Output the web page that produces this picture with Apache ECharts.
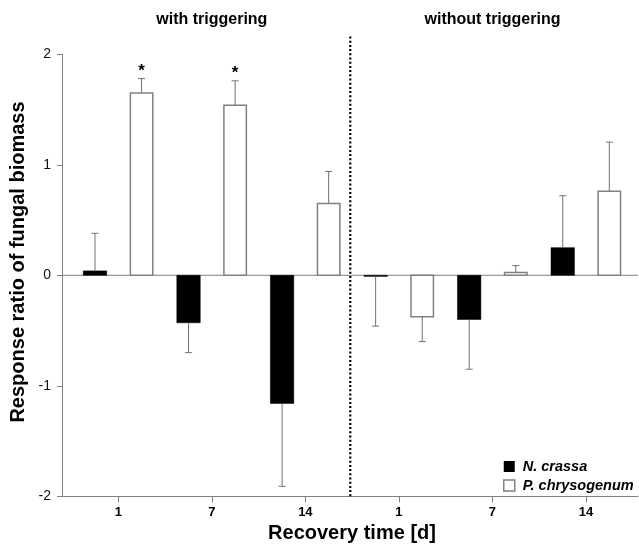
<!DOCTYPE html>
<html><head><meta charset="utf-8">
<script src="https://cdn.jsdelivr.net/npm/echarts@6/dist/echarts.min.js"></script>
<style>html,body{margin:0;padding:0;background:#fff}#c{width:639px;height:545px}</style>
</head><body><div id="c"></div>
<script>
// ---- data ----
const categories = ['1', '7', '14', '1', '7', '14'];
const groupTitles = ['with triggering', 'without triggering'];
const groupCenterIndex = [2, 5];
const seriesNames = ['N. crassa', 'P. chrysogenum'];
const nCrassa = [0.04, -0.43, -1.16, -0.01, -0.40, 0.25];
const nCrassaErr = [0.34, 0.27, 0.75, 0.45, 0.45, 0.47];
const pChrys = [1.65, 1.54, 0.65, -0.375, 0.025, 0.76];
const pChrysErr = [0.13, 0.22, 0.29, 0.225, 0.063, 0.445];
const pChrysSig = ['*', '*', '', '', '', ''];
const separatorX = 3.48;
const separatorTop = 2.18;
const yMin = -2, yMax = 2, yInterval = 1;
const xLabelName = 'Recovery time [d]';
const yLabelName = 'Response ratio of fungal biomass';

// ---- style ----
const FONT = "'Liberation Sans', Arial, sans-serif";
const AXIS_COLOR = '#808080';
const ERR_COLOR = '#707070';
const BAR_OFFSET = 0.249;
const BAR_W = 0.256;

function makeRender(offset, fill, stroke, lw, sig) {
  return function (params, api) {
    const i = api.value(0), v = api.value(1), e = api.value(2);
    const unit = api.size([1, 0])[0];
    const base = api.coord([i, 0]);
    const top = api.coord([i, v]);
    const tip = api.coord([i, v >= 0 ? v + e : v - e]);
    const cx = base[0] + offset * unit;
    const w = BAR_W * unit;
    const y0 = Math.min(base[1], top[1]);
    const h = Math.max(Math.abs(top[1] - base[1]), 0.8);
    const children = [
      { type: 'rect', shape: { x: cx - w / 2 + lw / 2, y: y0, width: w - lw, height: h },
        style: { fill: fill, stroke: stroke, lineWidth: lw } },
      { type: 'line', shape: { x1: cx, y1: top[1], x2: cx, y2: tip[1] },
        style: { stroke: ERR_COLOR, lineWidth: 1 } },
      { type: 'line', shape: { x1: cx - 3.5, y1: tip[1], x2: cx + 3.5, y2: tip[1] },
        style: { stroke: ERR_COLOR, lineWidth: 1 } }
    ];
    if (sig && sig[params.dataIndex]) {
      children.push({ type: 'text', x: cx, y: tip[1] + 1,
        style: { text: sig[params.dataIndex], font: 'bold 17px ' + FONT, fill: '#000',
          textAlign: 'center', textVerticalAlign: 'bottom' } });
    }
    return { type: 'group', children: children };
  };
}

const chart = echarts.init(document.getElementById('c'), null, { renderer: 'canvas' });
const xVals = categories.map((c, k) => k + 1);
const xMin = 1 - 56.3 / 93.6, xMax = 6 + 52 / 93.6;

chart.setOption({
  animation: false,
  backgroundColor: '#fff',
  textStyle: { fontFamily: FONT },
  grid: { left: 62, right: 1, top: 54.3, bottom: 48.7, containLabel: false, outerBoundsMode: 'none' },
  legend: {
    orient: 'vertical', left: 498, top: 454, itemWidth: 11, itemHeight: 11, itemGap: 4,
    icon: 'rect',
    textStyle: { fontFamily: FONT, fontSize: 14.5, fontWeight: 'bold', fontStyle: 'italic', color: '#000',
      padding: [0, 0, 0, 3] },
    data: [
      { name: seriesNames[0], itemStyle: { color: '#000', borderColor: '#000', borderWidth: 0 } },
      { name: seriesNames[1], itemStyle: { color: '#fff', borderColor: '#808080', borderWidth: 1.5 } }
    ]
  },
  xAxis: {
    type: 'value', min: xMin, max: xMax,
    splitLine: { show: false },
    axisLine: { show: true, onZero: false, lineStyle: { color: AXIS_COLOR, width: 1 } },
    axisTick: { show: true, length: 6, customValues: xVals, lineStyle: { color: AXIS_COLOR } },
    axisLabel: { show: true, customValues: xVals, margin: 10, fontSize: 13, fontWeight: 'bold', color: '#000',
      fontFamily: FONT, formatter: v => categories[Math.round(v) - 1] }
  },
  yAxis: {
    type: 'value', min: yMin, max: yMax, interval: yInterval,
    splitLine: { show: false },
    axisLine: { show: true, onZero: false, lineStyle: { color: AXIS_COLOR, width: 1 } },
    axisTick: { show: true, length: 5, lineStyle: { color: AXIS_COLOR } },
    axisLabel: { margin: 11, fontSize: 14, color: '#111', fontFamily: FONT }
  },
  series: [
    {
      name: 'guides', type: 'custom', silent: true, z: 1,
      data: [[separatorX, separatorTop]],
      encode: { x: 0, y: 1 },
      renderItem: function (params, api) {
        const sx = api.value(0);
        const a = api.coord([sx, yMin]);
        const b = api.coord([sx, api.value(1)]);
        const z0 = api.coord([xMin, 0]);
        const z1 = api.coord([xMax, 0]);
        return { type: 'group', children: [
          { type: 'line', shape: { x1: z0[0], y1: z0[1], x2: z1[0], y2: z1[1] },
            style: { stroke: AXIS_COLOR, lineWidth: 1 } },
          { type: 'line', shape: { x1: a[0], y1: a[1], x2: b[0], y2: b[1] },
            style: { stroke: '#000', lineWidth: 2.2, lineDash: [2, 2.2] } }
        ] };
      }
    },
    {
      name: seriesNames[0], type: 'custom',
      itemStyle: { color: '#000' },
      renderItem: makeRender(-BAR_OFFSET, '#000', '#000', 0.5, null),
      data: nCrassa.map((v, k) => [xVals[k], v, nCrassaErr[k]]),
      encode: { x: 0, y: 1 },
      z: 3
    },
    {
      name: seriesNames[1], type: 'custom',
      itemStyle: { color: '#fff', borderColor: '#808080', borderWidth: 1.5 },
      renderItem: makeRender(BAR_OFFSET, '#fff', '#808080', 1.5, pChrysSig),
      data: pChrys.map((v, k) => [xVals[k], v, pChrysErr[k]]),
      encode: { x: 0, y: 1 },
      z: 3
    }
  ]
});

const gx = groupCenterIndex.map(k => chart.convertToPixel({ xAxisIndex: 0 }, k));
chart.setOption({
  graphic: [
    { type: 'text', x: gx[0], y: 20, style: { text: groupTitles[0], font: 'bold 16px ' + FONT, fill: '#000', textAlign: 'center', textVerticalAlign: 'middle' } },
    { type: 'text', x: gx[1], y: 20, style: { text: groupTitles[1], font: 'bold 16px ' + FONT, fill: '#000', textAlign: 'center', textVerticalAlign: 'middle' } },
    { type: 'text', x: 18, y: 262, rotation: Math.PI / 2, style: { text: yLabelName, font: 'bold 20px ' + FONT, fill: '#000', textAlign: 'center', textVerticalAlign: 'middle' } },
    { type: 'text', x: 352, y: 533, style: { text: xLabelName, font: 'bold 20px ' + FONT, fill: '#000', textAlign: 'center', textVerticalAlign: 'middle' } }
  ]
});
</script>
</body></html>
